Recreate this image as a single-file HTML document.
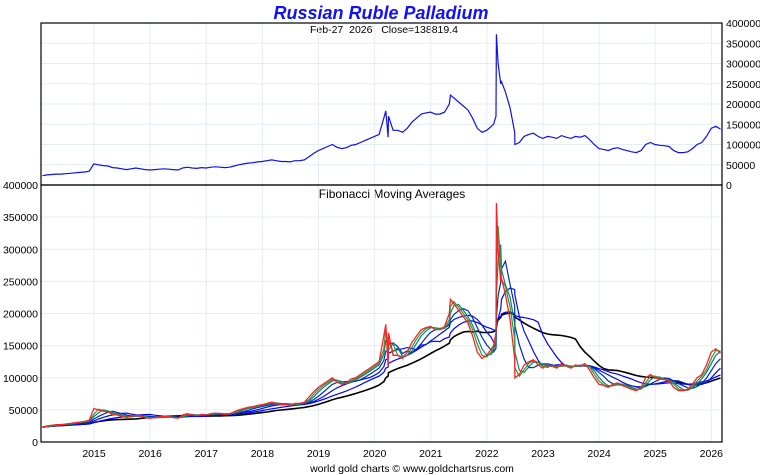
<!DOCTYPE html>
<html><head><meta charset="utf-8">
<style>
html,body{margin:0;padding:0;background:#fff;}
svg{display:block;font-family:"Liberation Sans",Arial,sans-serif;}
</style></head>
<body>
<svg id="chart" width="760" height="475" viewBox="0 0 760 475" xmlns="http://www.w3.org/2000/svg">
<text x="381" y="19" text-anchor="middle" font-size="18" font-weight="bold" font-style="italic" fill="#1010ff">Russian Ruble Palladium</text>
<text x="384" y="33" text-anchor="middle" font-size="10.5" fill="#000" xml:space="preserve">Feb-27  2026   Close=138819.4</text>
<text x="392" y="198" text-anchor="middle" font-size="12" fill="#000">Fibonacci Moving Averages</text>
<text x="412" y="472" text-anchor="middle" font-size="10.5" fill="#000">world gold charts © www.goldchartsrus.com</text>
<g id="grid"></g>
<g id="marks"></g>
<g id="axes"></g>
</svg>
<script>
const years = [2015,2016,2017,2018,2019,2020,2021,2022,2023,2024,2025,2026];
const priceTicks = [0,50000,100000,150000,200000,250000,300000,350000,400000];
const monthlyPrices = [
 23000,25000,26000,27000,27000,28000,29000,30000,31000,32000,34000,52000,
 50000,48000,47000,43000,42000,40000,38000,40000,42000,40000,38000,37000,
 38000,39000,40000,39000,38000,37000,42000,44000,42000,41000,43000,42000,
 44000,45000,44000,43000,44000,47000,50000,52000,54000,55000,57000,58000,
 60000,62000,60000,58000,58000,57000,60000,60000,62000,70000,78000,85000,
 90000,95000,100000,93000,90000,92000,98000,100000,105000,110000,115000,120000,
 125000,165000,170000,135000,135000,130000,140000,155000,165000,175000,178000,180000,
 175000,175000,180000,200000,215000,205000,195000,185000,165000,140000,130000,135000,
 145000,170000,250000,230000,190000,130000,105000,120000,125000,128000,120000,115000,
 120000,118000,115000,122000,118000,115000,120000,118000,122000,112000,100000,90000,
 88000,85000,90000,92000,88000,85000,82000,80000,85000,100000,105000,100000,
 98000,97000,95000,85000,80000,80000,82000,90000,100000,105000,120000,140000,
 145000,138000
];
const extraDates = [2020.20,2020.24,2021.35,2022.12,2022.17,2022.20,2022.26,2022.50];
const extraPrices = [183000,118000,222000,150000,372000,300000,255000,100000];
const maWindows = [2,3,5,8,13,21];
const maColors = ["#2a9a3a","#1a7a7a","#0030b0","#0010e0","#0000ff","#000000"];

// merge monthly and extra observations by date
const obs=[];
monthlyPrices.forEach((v,i)=>obs.push([2014.08+i/12,v]));
extraDates.forEach((d,i)=>obs.push([d,extraPrices[i]]));
obs.sort((a,b)=>a[0]-b[0]);
const dates=obs.map(o=>o[0]), prices=obs.map(o=>o[1]);

const X0=41,X1=722;
const xOf = d => X0 + (d-2014.055)/(2026.19-2014.055)*(X1-X0);
const TOP={y0:23,y1:185}, BOT={y0:185,y1:442};
const yTop = v => TOP.y1 - v/400000*(TOP.y1-TOP.y0);
const yBot = v => BOT.y1 - v/400000*(BOT.y1-BOT.y0);
const NS="http://www.w3.org/2000/svg";
function mk(tag,attrs,parent){const e=document.createElementNS(NS,tag);for(const k in attrs)e.setAttribute(k,attrs[k]);parent.appendChild(e);return e;}
const grid=document.getElementById('grid'), marks=document.getElementById('marks'), axes=document.getElementById('axes');

years.forEach(yr=>{
  const x=xOf(yr);
  const l=mk('line',{x1:x,x2:x,y1:TOP.y0,y2:BOT.y1,stroke:'#e2edf7','stroke-width':1},grid);
  
  
  const t=mk('text',{x:x,y:457,'text-anchor':'middle','font-size':'10.5',fill:'#000'},axes);
  t.textContent=yr;
  
  
});
priceTicks.forEach(v=>{
  const yt=yTop(v), yb=yBot(v);
  const a=mk('line',{x1:X0,x2:X1,y1:yt,y2:yt,stroke:'#e2edf7','stroke-width':1},grid);
  
  
  const b=mk('line',{x1:X0,x2:X1,y1:yb,y2:yb,stroke:'#e2edf7','stroke-width':1},grid);
  
  
  const t1=mk('text',{x:726,y:yt+4,'font-size':'10.5',fill:'#000'},axes);
  t1.textContent=v;
  
  
  const t2=mk('text',{x:38,y:yb+4,'text-anchor':'end','font-size':'10.5',fill:'#000'},axes);
  t2.textContent=v;
  
  
});
const f1=mk('rect',{x:X0,y:TOP.y0,width:X1-X0,height:TOP.y1-TOP.y0,fill:'none',stroke:'#000','stroke-width':1.2},axes);


const f2=mk('rect',{x:X0,y:BOT.y0,width:X1-X0,height:BOT.y1-BOT.y0,fill:'none',stroke:'#000','stroke-width':1.2},axes);



function path(vals,yf){let d='';vals.forEach((v,i)=>{if(v==null)return;d+=(d?'L':'M')+xOf(dates[i]).toFixed(1)+','+yf(v).toFixed(1);});return d;}
const pt=mk('path',{d:path(prices,yTop),fill:'none',stroke:'#1010ee','stroke-width':1.2},marks);


for(let w=maWindows.length-1;w>=0;w--){
  const n=maWindows[w];
  const ma=prices.map((v,i)=>{const s=Math.max(0,i-n+1);let sum=0;for(let j=s;j<=i;j++)sum+=prices[j];return sum/(i-s+1);});
  const p=mk('path',{d:path(ma,yBot),fill:'none',stroke:maColors[w],'stroke-width':w===maWindows.length-1?1.6:1.2},marks);
  
  
}
const pb=mk('path',{d:path(prices,yBot),fill:'none',stroke:'#ff2020','stroke-width':1.3},marks);


</script>
</body></html>
